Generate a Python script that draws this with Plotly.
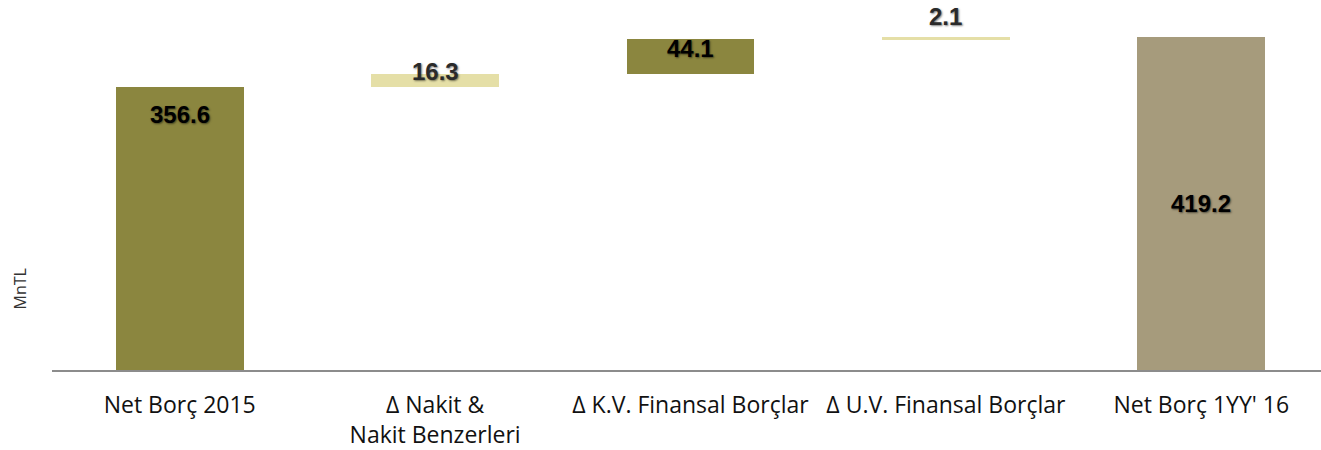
import plotly.graph_objects as go

categories = ["Net Borç 2015", "Δ Nakit &<br>Nakit Benzerleri", "Δ K.V. Finansal Borçlar",
              "Δ U.V. Finansal Borçlar", "Net Borç 1YY' 16"]
values = [356.6, 16.3, 44.1, 2.1, 419.2]
measures = ["absolute", "relative", "relative", "relative", "total"]
labels = ["356.6", "16.3", "44.1", "2.1", "419.2"]

colors = ["#8B863F", "#E5DFA7", "#8B863F", "#E5DFA7", "#A69B7C"]
label_colors = ["#000000", "#2a2a2a", "#000000", "#2a2a2a", "#000000"]
label_shift = [-28, 3, -9, 21, 0]

# compute bases from data
bases = []
running = 0.0
for v, m in zip(values, measures):
    if m == "relative":
        bases.append(running)
        running += v
    else:
        bases.append(0.0)
        running = v

fig = go.Figure()
fig.add_trace(go.Bar(
    x=list(range(len(categories))), y=values, base=bases,
    marker=dict(color=colors, line=dict(width=0)),
    width=0.5, hoverinfo="skip",
))

for i, (v, b, m) in enumerate(zip(values, bases, measures)):
    yref_val = b + v if m != "total" else b + v / 2
    fig.add_annotation(
        x=i, y=yref_val, text=labels[i], showarrow=False,
        yanchor="middle", xanchor="center", yshift=label_shift[i],
        font=dict(family="Liberation Sans, Arial", size=24, color=label_colors[i],
                  weight="bold", shadow="1px 1px 2px rgba(0,0,0,0.5)"),
    )

L, PH = 52, 372
fig.add_annotation(
    xref="paper", yref="paper", x=(20 - L) / (1321 - L), y=(PH - 291) / PH,
    text="MnTL", showarrow=False, textangle=-90, xanchor="center", yanchor="middle",
    font=dict(family="Open Sans, sans-serif", size=16, color="#333333"),
)

fig.update_layout(
    width=1321, height=450,
    margin=dict(l=L, r=0, t=0, b=450 - PH),
    paper_bgcolor="white", plot_bgcolor="white",
    showlegend=False, bargap=0,
    xaxis=dict(
        range=[-0.5, 4.5 - 8 / 255.5], tickmode="array", tickvals=list(range(len(categories))),
        ticktext=categories, showgrid=False, zeroline=False,
        showline=True, linecolor="#8c8c8c", linewidth=2, ticks="",
        tickfont=dict(family="Open Sans, sans-serif", size=23, color="#111111"),
        ticklabelstandoff=13,
    ),
    yaxis=dict(range=[0, PH / 0.798], showgrid=False, zeroline=False, showticklabels=False,
               showline=False, ticks=""),
)

fig.write_html("out.html", config={"displayModeBar": False},
               post_script="document.body.style.margin='0';")
